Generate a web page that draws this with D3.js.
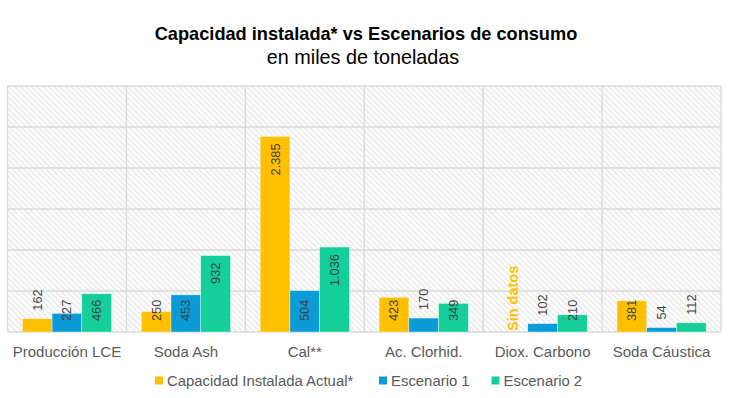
<!DOCTYPE html>
<html><head><meta charset="utf-8">
<script src="https://cdn.jsdelivr.net/npm/d3@7"></script>
<style>body{margin:0;background:#fff}svg{display:block}</style>
</head><body>
<svg id="c" width="730" height="398"></svg>
<script>
const categories = ["Producción LCE","Soda Ash","Cal**","Ac. Clorhid.","Diox. Carbono","Soda Cáustica"];
const seriesNames = ["Capacidad Instalada Actual*","Escenario 1","Escenario 2"];
const capacidad = [162, 250, 2385, 423, null, 381];
const escenario1 = [227, 453, 504, 170, 102, 54];
const escenario2 = [466, 932, 1036, 349, 210, 112];
const yTicks = [0, 500, 1000, 1500, 2000, 2500, 3000];
const noDataLabel = "Sin datos";
const colors = ["#FFC000","#0A9BD8","#14CF9A"];

const series = [capacidad, escenario1, escenario2];
const svg = d3.select("#c");
const font = "'Liberation Sans', Arial, sans-serif";
const m = {left: 7.5, right: 721, top: 86, bottom: 332};

const defs = svg.append("defs");
const pat = defs.append("pattern").attr("id","hatch").attr("patternUnits","userSpaceOnUse")
  .attr("width",4).attr("height",4).attr("patternTransform","rotate(-45)");
pat.append("rect").attr("width",4).attr("height",4).attr("fill","#ffffff");
pat.append("line").attr("x1",1).attr("y1",0).attr("x2",1).attr("y2",4)
  .attr("stroke","#e2e2e2").attr("stroke-width",1.2);

const x0 = d3.scaleBand().domain(categories).range([m.left, m.right]);
const x1 = d3.scaleBand().domain(seriesNames).range([0, x0.bandwidth()]).paddingInner(0).paddingOuter(0.5);
const y = d3.scaleLinear().domain([0, 3000]).range([m.bottom, m.top]);

svg.append("rect").attr("x",m.left).attr("y",m.top).attr("width",m.right-m.left).attr("height",m.bottom-m.top)
  .attr("fill","url(#hatch)");

// gridlines
const g = svg.append("g");
g.selectAll("line.h").data(yTicks).join("line").attr("class","h")
  .attr("x1",m.left).attr("x2",m.right).attr("y1",d=>y(d)).attr("y2",d=>y(d))
  .attr("stroke","#dadada").attr("stroke-width",1.3);
const vb = categories.map(c=>x0(c)).concat([m.right]);
g.selectAll("line.v").data(vb).join("line").attr("class","v")
  .attr("x1",d=>d).attr("x2",d=>d).attr("y1",m.top).attr("y2",m.bottom)
  .attr("stroke","#dadada").attr("stroke-width",1.3);

const fmt = d3.formatLocale({decimal:",",thousands:".",grouping:[3],currency:["",""]}).format(",d");

// bars
const bars = [];
categories.forEach((c,i)=>{
  series.forEach((s,j)=>{
    bars.push({cat:c, name:seriesNames[j], v:s[i], j});
  });
});
svg.append("g").selectAll("rect").data(bars.filter(d=>d.v!=null)).join("rect")
  .attr("x",d=>x0(d.cat)+x1(d.name)).attr("width",x1.bandwidth())
  .attr("y",d=>y(d.v)).attr("height",d=>y(0)-y(d.v))
  .attr("fill",d=>colors[d.j]).attr("stroke","#ffffff").attr("stroke-width",0.6).attr("stroke-opacity",0.6);

// labels
const lab = svg.append("g");
bars.forEach(d=>{
  const cx = x0(d.cat)+x1(d.name)+x1.bandwidth()/2;
  if (d.v==null){
    lab.append("text").attr("transform",`translate(${cx+5},${y(0)-1}) rotate(-90)`)
      .attr("font-family",font).attr("font-weight","bold").attr("font-size",14.5)
      .attr("fill",colors[0]).text(noDataLabel);
    return;
  }
  const h = y(0)-y(d.v);
  let t, anchor;
  if (h >= 45){ t = `translate(${cx+4.5},${y(d.v)+7}) rotate(-90)`; anchor="end"; }
  else if (h >= 15){ t = `translate(${cx+4.5},${y(0)-11}) rotate(-90)`; anchor="start"; }
  else { t = `translate(${cx+4.5},${y(d.v)-8}) rotate(-90)`; anchor="start"; }
  lab.append("text").attr("transform",t).attr("text-anchor",anchor)
    .attr("font-family",font).attr("font-size",12.8).attr("fill","#404040").text(fmt(d.v));
});

// category labels
svg.append("g").selectAll("text").data(categories).join("text")
  .attr("x",d=>x0(d)+x0.bandwidth()/2).attr("y",357).attr("text-anchor","middle")
  .attr("font-family",font).attr("font-size",15).attr("fill","#595959").text(d=>d);

// title
svg.append("text").attr("x",366).attr("y",40).attr("text-anchor","middle")
  .attr("font-family",font).attr("font-weight","bold").attr("font-size",18.2).attr("fill","#000").text("Capacidad instalada* vs Escenarios de consumo");
svg.append("text").attr("x",363).attr("y",63.5).attr("text-anchor","middle")
  .attr("font-family",font).attr("font-size",19.8).attr("fill","#000").text("en miles de toneladas");

// legend
const legX = [155, 379, 491.5];
const lg = svg.append("g");
seriesNames.forEach((n,i)=>{
  lg.append("rect").attr("x",legX[i]).attr("y",376.5).attr("width",8).attr("height",8).attr("fill",colors[i]);
  lg.append("text").attr("x",legX[i]+12).attr("y",386).attr("font-family",font).attr("font-size",14.9)
    .attr("fill","#595959").text(n);
});
</script>
</body></html>
